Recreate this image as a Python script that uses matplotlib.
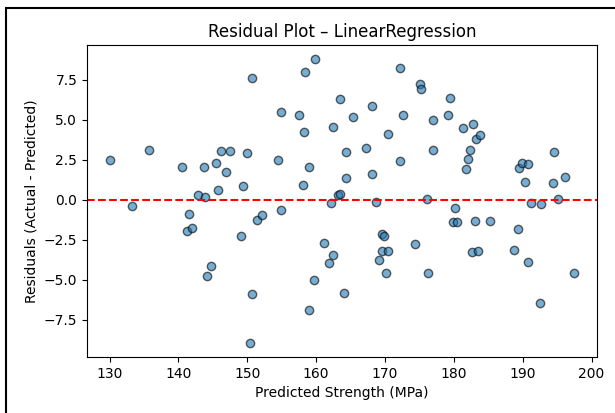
import matplotlib
matplotlib.use("Agg")
import matplotlib.pyplot as plt
from matplotlib.patches import Rectangle

# predicted strength (MPa) and residuals
predicted = [
    130.1, 133.3, 135.8, 140.5, 141.5, 141.3, 142.0, 142.9, 143.9, 143.7,
    144.1, 144.7, 145.4, 145.8, 146.2, 146.9, 147.5, 149.1, 149.4, 150.0,
    150.7, 150.7, 150.4, 151.4, 152.1, 154.4, 154.9, 154.9, 157.5, 158.1,
    158.3, 158.4, 158.9, 158.9, 159.7, 159.8, 161.1, 161.9, 162.1, 162.4,
    162.5, 163.2, 163.5, 163.5, 164.1, 164.3, 164.4, 165.4, 167.2, 168.1,
    168.1, 168.7, 169.2, 169.5, 169.6, 169.9, 170.1, 170.4, 170.5, 172.2,
    172.2, 172.6, 174.4, 175.1, 175.2, 176.1, 176.3, 176.9, 177.0, 179.2,
    179.5, 180.1, 179.9, 180.5, 181.4, 181.8, 182.0, 182.3, 182.6, 182.8,
    183.1, 183.2, 183.5, 183.8, 185.3, 188.7, 189.3, 189.4, 189.9, 190.4,
    190.8, 190.8, 191.2, 192.5, 192.6, 194.4, 194.5, 195.1, 196.1, 197.4,
]
residuals = [
    2.47, -0.39, 3.09, 2.05, -0.89, -1.95, -1.78, 0.28, 0.18, 2.05,
    -4.76, -4.14, 2.32, 0.61, 3.03, 1.74, 3.07, -2.24, 0.86, 2.90,
    7.60, -5.86, -8.93, -1.26, -0.95, 2.49, -0.64, 5.49, 5.30, 0.91,
    4.26, 7.99, 2.05, -6.90, -5.03, 8.78, -2.68, -3.93, -0.18, 4.55,
    -3.47, 0.30, 0.35, 6.28, -5.84, 3.01, 1.34, 5.14, 3.26, 1.59,
    5.83, -0.11, -3.76, -3.20, -2.16, -2.26, -4.59, 4.14, -3.20, 2.43,
    8.22, 5.30, -2.74, 7.22, 6.90, 0.05, -4.59, 3.09, 5.00, 5.30,
    6.34, -0.53, -1.39, -1.39, 4.51, 1.95, 2.53, 3.09, -3.24, 4.72,
    -1.32, 3.82, -3.20, 4.05, -1.32, -3.16, -1.84, 1.97, 2.32, 1.14,
    2.26, -3.89, -0.18, -6.45, -0.24, 1.07, 3.01, 0.03, 1.43, -4.55,
]

fig = plt.figure(figsize=(6.15, 4.13), dpi=100)
ax = fig.add_axes([0.1415, 0.1356, 0.829, 0.7554])

ax.scatter(predicted, residuals, s=36, color="#1f77b4", alpha=0.6,
           edgecolors="k", linewidths=1.0)
ax.axhline(0, color="red", linestyle="--", linewidth=1.5)

ax.set_title("Residual Plot – LinearRegression", fontsize=12)
ax.set_xlabel("Predicted Strength (MPa)", fontsize=10)
ax.set_ylabel("Residuals (Actual - Predicted)", fontsize=10)
ax.tick_params(labelsize=10)
ax.set_yticks([-7.5, -5.0, -2.5, 0.0, 2.5, 5.0, 7.5])

# screenshot frame around the figure
fig.patches.append(Rectangle((6 / 615, -0.01), 1.0, 1 - 8 / 413 + 0.01,
                             transform=fig.transFigure, fill=False,
                             edgecolor="black", linewidth=1.5))

fig.savefig("out.png", dpi=100)
